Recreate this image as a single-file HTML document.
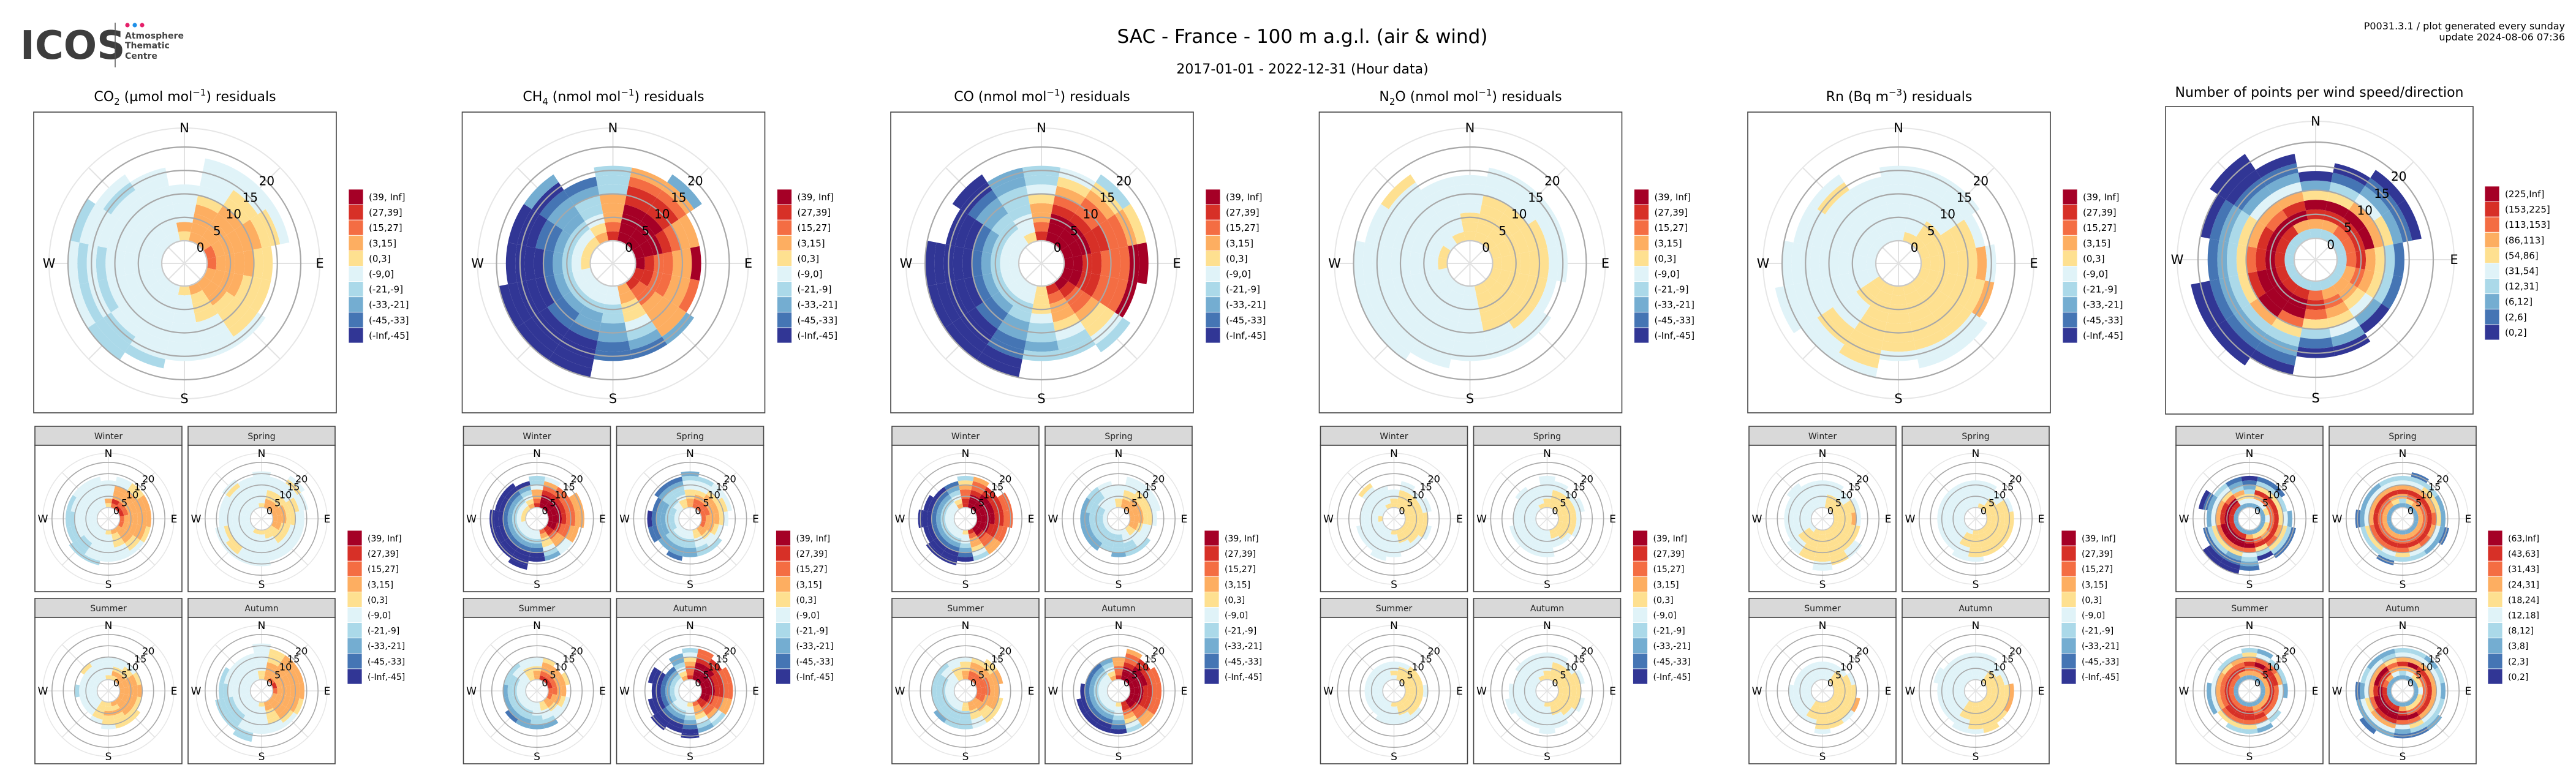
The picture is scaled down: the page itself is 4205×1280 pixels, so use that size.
<!DOCTYPE html>
<html><head><meta charset="utf-8">
<style>
html,body{margin:0;padding:0;background:#fff;}
svg{display:block;font-family:"DejaVu Sans","Liberation Sans",sans-serif;}
</style></head>
<body>
<svg id="chart" xmlns="http://www.w3.org/2000/svg" width="4205" height="1280" viewBox="0 0 4205 1280">
<rect x="0" y="0" width="4205" height="1280" fill="#fff"/>
<g>
<text x="33" y="96" font-size="64" font-weight="bold" fill="#3d3d3d" font-family="'DejaVu Sans',sans-serif">ICOS</text>
<line x1="188" y1="37" x2="188" y2="110" stroke="#555" stroke-width="1.5"/>
<circle cx="208" cy="41" r="3.6" fill="#e5206a"/><circle cx="220" cy="41" r="3.6" fill="#1e90e8"/><circle cx="232" cy="41" r="3.6" fill="#e5206a"/>
<text x="204" y="63" font-size="14" font-weight="bold" fill="#444">Atmosphere</text>
<text x="204" y="79" font-size="14" font-weight="bold" fill="#444">Thematic</text>
<text x="204" y="96" font-size="14" font-weight="bold" fill="#444">Centre</text>
</g>
<text x="2126" y="70" font-size="31" text-anchor="middle" fill="#000">SAC - France - 100 m a.g.l. (air &amp; wind)</text>
<text x="2126" y="120" font-size="22" text-anchor="middle" fill="#000">2017-01-01 - 2022-12-31 (Hour data)</text>
<text x="4187" y="48" font-size="16" text-anchor="end" fill="#000">P0031.3.1 / plot generated every sunday</text>
<text x="4187" y="66" font-size="16" text-anchor="end" fill="#000">update  2024-08-06 07:36</text>
</svg>
<script>
// ---- data: 16 directions (N clockwise), 2 m/s speed bins; char = colour class 0..9, '.' = empty
const residualLabels = ["(39, Inf]","(27,39]","(15,27]","(3,15]","(0,3]","(-9,0]","(-21,-9]","(-33,-21]","(-45,-33]","(-Inf,-45]"];
const countLabels = ["(225,Inf]","(153,225]","(113,153]","(86,113]","(54,86]","(31,54]","(12,31]","(6,12]","(2,6]","(0,2]"];
const countSeasonLabels = ["(63,Inf]","(43,63]","(31,43]","(24,31]","(18,24]","(12,18]","(8,12]","(3,8]","(2,3]","(0,2]"];
const seasons = ["Winter","Spring","Summer","Autumn"];
const speedTicks = [0,5,10,15,20];
const compass = ["N","E","S","W"];

const co2All = ["564444","666654444","666665544","766666554","7666655","6666555","66655554","65554444","54444444","444444443","4444444333","4444443434","4444443434","4444444443","444444434","44444444"];
const co2Winter = ["564444","7866644","8766655","8766666","7666666","7666665","6666554","6555444","5444444","44444443","44443333","4444433","4444433","4444443","4444444","4444444"];
const co2Spring = ["54444444","6655444","665544454","66655544","6665544","6655444","5555444","5544444","54444444","54444444","44444554","44444544","4444444","4444444","44444454","4444444"];
const co2Summer = ["54444","56544","66554","66665","66666","66665","666655","656555","556554","55554","4444","4444","44443","4444","44445","44444"];
const co2Autumn = ["55444444","6666555","7666666","8666666","7666666","6666665","6666654","6655544","5444444","444444433","44443333","44443333","4444433","4444443","444444","444444"];

const ch4All = ["87666333","99998876","999988762","9998766","9877669","8877667","87766662","66554321","44332211","4432210000","4432110000","4432100000","543210000","543211000","543222102","6543321"];
const ch4Winter = ["8766433","9998764","999877","99987766","99987766","9987766","8876644","7655432","4432100","443210000","44321000","44321000","54321000","5432100","5432100","654320"];
const ch4Spring = ["66554432","7765443","7766544","7766554","766654","76654","665443","554433","443322","4433221","443322","4332211","4332210","433221","4433321","5543321"];
const ch4Summer = ["66544","87665","8766","87665","7766","76654","66544","554432","444332","443322","443321","44332","44332","44333","44443","55544"];
const ch4Autumn = ["8776543","9999877","999988","9998877","9998877","9987766","8877643","7665432","54432100","4432100","44321000","4321000","432100","4321000","4321","654322"];

const coAll = ["87665433","99987654","999877653","999887765","998877799","99887779","987765543","87665433","55543323","4433221100","4432110000","4432100000","4432100000","44321000","443322100","54433322"];
const coWinter = ["8877653","9998776","999988","99998877","99998877","9998877","9987766","8766543","5443210","44321000","44321000","4432100","44321000","4432100","443210","654321"];
const coSpring = ["55444","6655444","6665544","6665544","666554","66544","554443","444333","433332","43333","433322","433322","433322","433332","444333","444444"];
const coSummer = ["66554","77665","776655","777666","77766","776665","666555","665544","553333","443333","443332","44333","44333","44333","44443","55544"];
const coAutumn = ["87766","9998776","999988","9999877","9998877","9998877","9987766","8876543","5443210","4432100","4432100","4432100","443210","44321","44321","65432"];

const n2oAll = ["5554444","55555444","55555444","55555544","55555544","5555554","55555544","55555444","44444444","444444444","4444444444","4444444444","5444444444","544444444","444444445","5444444"];
const n2oWinter = ["5544","555544","55554","555544","55555","555554","55554","55544","544444","4444444","444444","444444","54444","44444","4444445","54444"];
const n2oSpring = ["5544444","555544","55554","555544","55554","55554","5554","5544","444444","444444","444444","444444","44444","44444","444444","54444"];
const n2oSummer = ["4544","5554","5555","5555","55554","5555","55554","55544","54444","44444","4444","4444","4444","4444","4444","4444"];
const n2oAutumn = ["554444","555544","55554","555554","55555","555554","55554","555444","5444444","444444","444444","4444444","444444","44444","444444","544444"];

const rnAll = ["44444444","54444444","55544444","5555554","55555564","55555556","555555544","555555544","55555554","5555555554","5554445544","44444444444","4444444444","444444444","444444454","4444444"];
const rnWinter = ["444444","555444","55544","555554","555564","555555","55555544","55555555","555555544","5555555","4555444","444444","444444","444444","4444444","444444"];
const rnSpring = ["444444","544444","55544","555554","555555","555555","555555","555555","5555554","4555444","444444","444444","444444","444444","444444","444444"];
const rnSummer = ["4444","4444","5554","55554","55555","555556","555554","555555","5555554","55554","44444","44444","44444","4444","4444","4444"];
const rnAutumn = ["444444","444444","55544","55554","555556","555556","555555","5555555","5555554","5555444","444444","444444","444444","4444444","444444","444444"];

const countAll = ["3689520","36895310","378964210","378965210","3786531","3676531","3665420","36765420","37875310","3899753210","38999632100","38998532100","389875321","3898653210","38976421000","369864210"];
const countWinter = ["2453210","2468531","2478531","257853","2478542","25786531","25687531","2578530","268974321","2899752100","2899753100","28997531","2898642","289864210","2897543","2456321"];
const countSpring = ["2368643","25786431","2678653","2678652","2678752","26786421","2678742","2678643","2678753","26787431","2678753","2678753","26786421","2678642","2678642","2568643"];
const countSummer = ["2678653","2679742","268873","268863","268742","26874","268743","2678742","2788753","2788753","278875","2787642","2787642","278764","278753","268763"];
const countAutumn = ["2368643","2469643","2578642","2578643","2478642","2578643","25786432","25797531","26897421","28998642","289986421","28997542","28986421","2789643","2689642","2467532"];

const classColors = ["#313695","#4575b4","#74add1","#abd9e9","#e0f3f8","#fee090","#fdae61","#f46d43","#d73027","#a50026"];
const BIN = 2;

const NS = "http://www.w3.org/2000/svg";
const svg = document.getElementById("chart");
function mk(tag, parent){ const e = document.createElementNS(NS, tag); parent.appendChild(e); return e; }
function sectorPath(cx, cy, r1, r2, a1, a2){
  const rad = Math.PI/180;
  const p = (r,a)=>[(cx + r*Math.sin(a*rad)).toFixed(2), (cy - r*Math.cos(a*rad)).toFixed(2)];
  const [x1,y1]=p(r2,a1),[x2,y2]=p(r2,a2),[x3,y3]=p(r1,a2),[x4,y4]=p(r1,a1);
  return `M${x1},${y1}A${r2},${r2} 0 0 1 ${x2},${y2}L${x3},${y3}A${r1},${r1} 0 0 0 ${x4},${y4}Z`;
}

function drawPolar(cfg){
  const g = mk("g", svg);
  
  
  const rScale = v => cfg.r0 + cfg.k*v;
  const nDir = cfg.data.length;
  const aScale = i => i*360/nDir;
  for(let a=0;a<360;a+=45){
    const ln = mk("line", g);
    ln.setAttribute("x1", cfg.cx); ln.setAttribute("y1", cfg.cy);
    ln.setAttribute("x2", cfg.cx + cfg.rOut*Math.sin(a*Math.PI/180));
    ln.setAttribute("y2", cfg.cy - cfg.rOut*Math.cos(a*Math.PI/180));
    ln.setAttribute("stroke", "#e2e2e2"); ln.setAttribute("stroke-width", cfg.big?2:1.5);
  }
  const oc = mk("circle", g);
  oc.setAttribute("cx", cfg.cx); oc.setAttribute("cy", cfg.cy); oc.setAttribute("r", cfg.rOut);
  oc.setAttribute("fill", "none"); oc.setAttribute("stroke", "#e6e6e6"); oc.setAttribute("stroke-width", cfg.big?2:1.5);
  cfg.data.forEach((row, i) => {
    const half = 180/nDir;
    for(let j=0;j<row.length;j++){
      const c = row[j];
      if(c === "." || c === " ") continue;
      const p = mk("path", g);
      
      
      p.setAttribute("d", sectorPath(cfg.cx, cfg.cy, rScale(j*BIN), rScale((j+1)*BIN), aScale(i)-half, aScale(i)+half));
      p.setAttribute("fill", classColors[+c]);
    }
  });
  speedTicks.forEach(v => {
    const c = mk("circle", g);
    
    
    c.setAttribute("cx", cfg.cx); c.setAttribute("cy", cfg.cy); c.setAttribute("r", rScale(v));
    c.setAttribute("fill", "none"); c.setAttribute("stroke", v===0?"#c8c8c8":"#a8a8a8"); c.setAttribute("stroke-width", cfg.big?2.2:1.6);
    const t = mk("text", g);
    
    
    const r = rScale(v);
    t.setAttribute("x", cfg.cx + r*Math.SQRT1_2); t.setAttribute("y", cfg.cy - r*Math.SQRT1_2 + cfg.fs*0.35);
    t.setAttribute("font-size", cfg.fs); t.setAttribute("text-anchor", "middle");
    t.textContent = v;
  });
  compass.forEach((lab, i) => {
    const a = i*90*Math.PI/180;
    const t = mk("text", g);
    
    
    t.setAttribute("x", cfg.cx + cfg.rOut*Math.sin(a)); t.setAttribute("y", cfg.cy - cfg.rOut*Math.cos(a) + cfg.fs*0.36);
    t.setAttribute("font-size", cfg.fs+1); t.setAttribute("text-anchor", "middle");
    t.textContent = lab;
  });
}

function drawBox(x, y, w, h, name){
  const r = mk("rect", svg);
  
  
  r.setAttribute("x", x); r.setAttribute("y", y); r.setAttribute("width", w); r.setAttribute("height", h);
  r.setAttribute("fill", "#fff"); r.setAttribute("stroke", "#444"); r.setAttribute("stroke-width", 1.6);
}

function drawLegend(x, y, labels, fs, name){
  const g = mk("g", svg);
  
  
  labels.forEach((lab, i) => {
    const r = mk("rect", g);
    
    
    r.setAttribute("x", x); r.setAttribute("y", y + i*25.1); r.setAttribute("width", 24); r.setAttribute("height", 25.1);
    r.setAttribute("fill", classColors[9-i]); r.setAttribute("stroke", "#fff"); r.setAttribute("stroke-width", 0.8);
    const t = mk("text", g);
    
    
    t.setAttribute("x", x + 33); t.setAttribute("y", y + i*25.1 + 18);
    t.setAttribute("font-size", fs);
    t.textContent = lab;
  });
}

function drawTitle(cx, y, html, name){
  const t = mk("text", svg);
  
  
  t.setAttribute("x", cx); t.setAttribute("y", y); t.setAttribute("font-size", 22); t.setAttribute("text-anchor", "middle");
  t.innerHTML = html;
}

const columns = [
  {name:"co2", title:'CO<tspan dy="6" font-size="15">2</tspan><tspan dy="-6"> (µmol mol</tspan><tspan dy="-9" font-size="15">−1</tspan><tspan dy="9">) residuals</tspan>', all:co2All, seas:[co2Winter,co2Spring,co2Summer,co2Autumn], labels:residualLabels, slabels:residualLabels},
  {name:"ch4", title:'CH<tspan dy="6" font-size="15">4</tspan><tspan dy="-6"> (nmol mol</tspan><tspan dy="-9" font-size="15">−1</tspan><tspan dy="9">) residuals</tspan>', all:ch4All, seas:[ch4Winter,ch4Spring,ch4Summer,ch4Autumn], labels:residualLabels, slabels:residualLabels},
  {name:"co", title:'CO (nmol mol<tspan dy="-9" font-size="15">−1</tspan><tspan dy="9">) residuals</tspan>', all:coAll, seas:[coWinter,coSpring,coSummer,coAutumn], labels:residualLabels, slabels:residualLabels},
  {name:"n2o", title:'N<tspan dy="6" font-size="15">2</tspan><tspan dy="-6">O (nmol mol</tspan><tspan dy="-9" font-size="15">−1</tspan><tspan dy="9">) residuals</tspan>', all:n2oAll, seas:[n2oWinter,n2oSpring,n2oSummer,n2oAutumn], labels:residualLabels, slabels:residualLabels},
  {name:"rn", title:'Rn (Bq m<tspan dy="-9" font-size="15">−3</tspan><tspan dy="9">) residuals</tspan>', all:rnAll, seas:[rnWinter,rnSpring,rnSummer,rnAutumn], labels:residualLabels, slabels:residualLabels},
  {name:"count", title:'Number of points per wind speed/direction', all:countAll, seas:[countWinter,countSpring,countSummer,countAutumn], labels:countLabels, slabels:countSeasonLabels}
];

columns.forEach((col, ci) => {
  const last = ci === 5;
  const L = last ? 3535 : 55 + 699.5*ci;
  const bw = last ? 502 : 494, by = last ? 174 : 183, bh = last ? 502 : 491;
  const cx = L + bw/2 - (last?6:1), cy = last ? 424 : 430;
  drawTitle(L + bw/2, last ? 158 : 165, col.title, col.name + "-title");
  drawBox(L, by, bw, bh, col.name + "-main-frame");
  drawPolar({name: col.name + "-main-polar", cx, cy, r0: last?35:37, k: last?7.85:7.65, rOut: last?226:221, data: col.all, fs: 20, big: true});
  drawLegend(last ? 4056 : L + 514, last ? 304 : 309, col.labels, 15, col.name + "-main-legend");
  const Ls = last ? 3552 : L + 2;
  seasons.forEach((s, si) => {
    const bx = Ls + (si%2)*250;
    const hy = si < 2 ? 696 : 977;
    const hdr = mk("rect", svg);
    
    
    hdr.setAttribute("x", bx); hdr.setAttribute("y", hy); hdr.setAttribute("width", 240); hdr.setAttribute("height", 31);
    hdr.setAttribute("fill", "#d9d9d9"); hdr.setAttribute("stroke", "#444"); hdr.setAttribute("stroke-width", 1.6);
    const ht = mk("text", svg);
    
    
    ht.setAttribute("x", bx + 120); ht.setAttribute("y", hy + 21); ht.setAttribute("font-size", 14);
    ht.setAttribute("text-anchor", "middle"); ht.setAttribute("fill", "#222");
    ht.textContent = s;
    drawBox(bx, hy + 31, 240, 239, col.name + "-" + s.toLowerCase() + "-frame");
    drawPolar({name: col.name + "-" + s.toLowerCase() + "-polar", cx: bx + 120, cy: hy + 31 + 120, r0: 18.4, k: 3.69, rOut: 107, data: col.seas[si], fs: 16, big: false});
  });
  drawLegend(last ? 4061 : L + 512, 866, col.slabels, 14, col.name + "-season-legend");
});
</script>
</body></html>
